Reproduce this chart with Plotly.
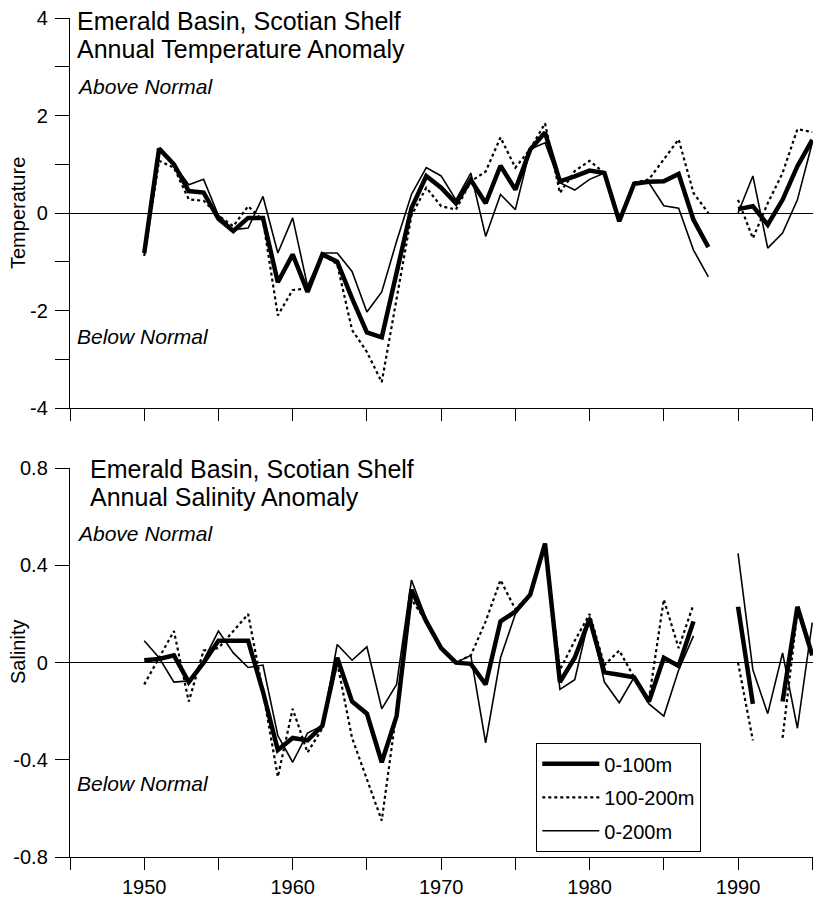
import plotly.graph_objects as go

# ---------------- data ----------------
years = list(range(1950, 1996))

temp_0_100 = [-0.82, 1.32, 1.00, 0.45, 0.42, -0.12, -0.37, -0.10, -0.10, -1.42,
              -0.85, -1.62, -0.85, -1.00, -1.75, -2.45, -2.55, -1.20, 0.10, 0.76,
              0.52, 0.20, 0.68, 0.20, 0.97, 0.48, 1.30, 1.65, 0.65, 0.75,
              0.87, 0.82, -0.17, 0.60, 0.64, 0.65, 0.80, -0.14, -0.70, None,
              0.08, 0.14, -0.24, 0.27, 0.96, 1.50]
temp_100_200 = [-0.88, 1.07, 0.93, 0.28, 0.25, -0.05, -0.27, 0.14, -0.15, -2.10,
                -1.58, -1.55, -0.85, -1.05, -2.40, -2.85, -3.47, -1.80, -0.05, 0.52,
                0.14, 0.07, 0.65, 0.85, 1.55, 0.93, 1.31, 1.84, 0.41, 0.86,
                1.07, 0.82, -0.12, 0.62, 0.69, 1.10, 1.51, 0.41, 0.00, None,
                0.27, -0.52, 0.20, 0.82, 1.72, 1.66]
temp_0_200 = [-0.80, 1.30, 1.00, 0.58, 0.69, -0.05, -0.34, -0.31, 0.34, -0.82,
              -0.10, -1.50, -0.82, -0.82, -1.20, -2.03, -1.62, -0.58, 0.38, 0.93,
              0.76, 0.27, 0.82, -0.48, 0.38, 0.07, 1.31, 1.44, 0.62, 0.47,
              0.69, 0.82, -0.15, 0.62, 0.62, 0.15, 0.10, -0.76, -1.31, None,
              0.00, 0.76, -0.72, -0.41, 0.27, 1.44]

sal_0_100 = [0.01, 0.015, 0.03, -0.08, 0.00, 0.09, 0.09, 0.09, -0.12, -0.36,
             -0.31, -0.32, -0.26, 0.02, -0.16, -0.21, -0.41, -0.22, 0.30, 0.17,
             0.06, 0.00, -0.005, -0.09, 0.17, 0.21, 0.28, 0.49, -0.08, 0.02,
             0.18, -0.04, -0.05, -0.06, -0.16, 0.02, -0.014, 0.17, None, None,
             0.23, -0.17, None, -0.16, 0.23, 0.03]
sal_100_200 = [-0.09, 0.02, 0.13, -0.16, 0.05, 0.06, 0.13, 0.20, -0.12, -0.47,
               -0.19, -0.37, -0.27, 0.00, -0.31, -0.48, -0.65, -0.20, 0.26, 0.17,
               0.06, 0.00, 0.03, 0.17, 0.34, 0.22, 0.28, 0.49, -0.03, 0.09,
               0.20, -0.01, 0.05, -0.06, -0.15, 0.26, 0.06, 0.24, None, None,
               0.00, -0.32, None, -0.31, 0.21, 0.04]
sal_0_200 = [0.09, 0.02, -0.08, -0.075, 0.01, 0.13, 0.04, -0.02, -0.01, -0.30,
             -0.41, -0.29, -0.26, 0.075, 0.01, 0.065, -0.19, -0.09, 0.34, 0.18,
             0.06, 0.00, 0.03, -0.33, 0.02, 0.20, 0.28, 0.49, -0.11, -0.07,
             0.19, -0.08, -0.165, -0.06, -0.17, -0.22, -0.03, 0.11, None, None,
             0.45, -0.03, -0.21, 0.04, -0.27, 0.165]

series_names = ["0-100m", "100-200m", "0-200m"]

x_tick_vals = list(range(1945, 1996, 5))
x_tick_text = [str(v) if v % 10 == 0 else "" for v in x_tick_vals]
temp_tick_vals = [-4, -3, -2, -1, 0, 1, 2, 3, 4]
temp_tick_text = ["-4", "", "-2", "", "0", "", "2", "", "4"]
sal_tick_vals = [-0.8, -0.4, 0, 0.4, 0.8]
sal_tick_text = ["-0.8", "-0.4", "0", "0.4", "0.8"]

# ---------------- layout constants ----------------
# The page body has an 8px default margin, so the figure is sized to fill
# the 821x901 window from that offset.
PAGE_W, PAGE_H, OFF = 821, 901, 8
W, H = PAGE_W - OFF, PAGE_H - OFF
PLOT_L, PLOT_R, PLOT_T, PLOT_B = 70, 813, 18, 857      # page pixels
ML, MR = PLOT_L - OFF, PAGE_W - PLOT_R
MT, MB = PLOT_T - OFF, PAGE_H - PLOT_B
PW, PH = W - ML - MR, H - MT - MB
FONT = "Liberation Sans, Arial, Helvetica, sans-serif"


def px_x(px):
    return (px - PLOT_L) / PW


def px_y(py):
    return (PLOT_B - py) / PH


styles = {
    "0-100m": dict(color="black", width=4.5),
    "100-200m": dict(color="black", width=2.2, dash="3px,3px"),
    "0-200m": dict(color="black", width=1.6),
}

fig = go.Figure()

top_series = {"0-100m": temp_0_100, "100-200m": temp_100_200, "0-200m": temp_0_200}
bot_series = {"0-100m": sal_0_100, "100-200m": sal_100_200, "0-200m": sal_0_200}

draw_order = ["0-200m", "100-200m", "0-100m"]
for name in draw_order:
    fig.add_trace(go.Scatter(x=years, y=top_series[name], mode="lines", name=name,
                             line=styles[name], xaxis="x", yaxis="y",
                             showlegend=False, hoverinfo="x+y+name"))
for name in draw_order:
    fig.add_trace(go.Scatter(x=years, y=bot_series[name], mode="lines", name=name,
                             line=styles[name], xaxis="x2", yaxis="y2",
                             showlegend=True, legendgroup=name,
                             legendrank=series_names.index(name) + 1,
                             hoverinfo="x+y+name"))

axis_common = dict(showgrid=False, showline=True, linecolor="black", linewidth=1.4,
                   ticks="outside", tickcolor="black", tickwidth=1.4, automargin=False,
                   ticklabeloverflow="allow",
                   tickfont=dict(family=FONT, size=20, color="black"))

top_dom = [px_y(408), 1.0]
bot_dom = [0.0, px_y(468.3)]

fig.update_layout(
    template="none",
    width=W, height=H,
    margin=dict(l=ML, r=MR, t=MT, b=MB, pad=0, autoexpand=False),
    paper_bgcolor="white", plot_bgcolor="white",
    font=dict(family=FONT, size=18, color="black"),
    xaxis=dict(domain=[0, 1], anchor="y", range=[1945, 1995.05],
               tickmode="array", tickvals=x_tick_vals, ticktext=["" for _ in x_tick_vals],
               ticklen=12, zeroline=False, **axis_common),
    yaxis=dict(domain=top_dom, anchor="x", range=[-4, 4],
               tickmode="array", tickvals=temp_tick_vals, ticktext=temp_tick_text,
               ticklen=14, ticklabelstandoff=3,
               zeroline=True, zerolinecolor="black", zerolinewidth=1.4, **axis_common),
    xaxis2=dict(domain=[0, 1], anchor="y2", range=[1945, 1995.05],
                tickmode="array", tickvals=x_tick_vals, ticktext=x_tick_text,
                ticklen=12, zeroline=False, **axis_common),
    yaxis2=dict(domain=bot_dom, anchor="x2", range=[-0.8, 0.8],
                tickmode="array", tickvals=sal_tick_vals, ticktext=sal_tick_text,
                ticklen=14, ticklabelstandoff=3,
                zeroline=True, zerolinecolor="black", zerolinewidth=1.4, **axis_common),
    legend=dict(x=px_x(536), y=px_y(743), xanchor="left", yanchor="top",
                bgcolor="white", bordercolor="black", borderwidth=1.3,
                font=dict(family=FONT, size=20, color="black"),
                traceorder="grouped", tracegroupgap=4.5, itemwidth=57),
    showlegend=True,
)


def add_text(text, px, baseline, size, italic=False, xanchor="left"):
    t = f"<i>{text}</i>" if italic else text
    fig.add_annotation(text=t, xref="paper", yref="paper",
                       x=px_x(px), y=px_y(baseline + 0.212 * size),
                       xanchor=xanchor, yanchor="bottom", showarrow=False, borderpad=0,
                       font=dict(family=FONT, size=size, color="black"))


TITLE = 25
LABEL = 21
add_text("Emerald Basin, Scotian Shelf", 76, 31, TITLE)
add_text("Annual Temperature Anomaly", 76, 59, TITLE)
add_text("Above Normal", 76, 95, LABEL, italic=True)
add_text("Below Normal", 76, 345, LABEL, italic=True)

add_text("Emerald Basin, Scotian Shelf", 89, 478.5, TITLE)
add_text("Annual Salinity Anomaly", 89, 506.5, TITLE)
add_text("Above Normal", 76, 542, LABEL, italic=True)
add_text("Below Normal", 76, 792, LABEL, italic=True)

for label, cy in [("Temperature", 213), ("Salinity", 652)]:
    fig.add_annotation(text=label, xref="paper", yref="paper", x=px_x(18), y=px_y(cy),
                       xanchor="center", yanchor="middle", textangle=-90, showarrow=False,
                       borderpad=0, font=dict(family=FONT, size=20, color="black"))

fig.write_html("out.html")
